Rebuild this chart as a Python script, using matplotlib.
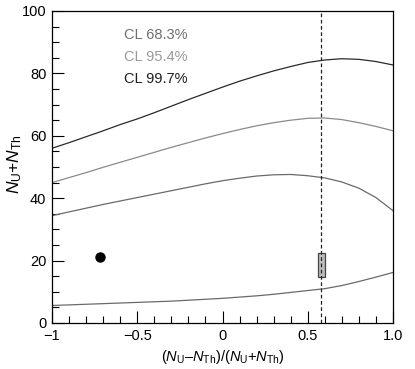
import matplotlib
matplotlib.use("Agg")
import matplotlib.pyplot as plt
from matplotlib.patches import Rectangle
from matplotlib.ticker import MultipleLocator

plt.rcParams['font.family'] = ['Liberation Sans', 'DejaVu Sans']
plt.rcParams['mathtext.fontset'] = 'custom'
plt.rcParams['mathtext.rm'] = 'Liberation Sans'
plt.rcParams['mathtext.it'] = 'Liberation Sans:italic'

# asymmetry values along x
xs = [-1.0, -0.9, -0.8, -0.7, -0.6, -0.5, -0.4, -0.3, -0.2, -0.1, 0.0,
      0.1, 0.2, 0.3, 0.4, 0.5, 0.6, 0.7, 0.8, 0.9, 1.0]

# contour boundaries (upper / lower)
cl997_upper = [56.0, 57.8, 59.7, 61.6, 63.6, 65.4, 67.4, 69.5, 71.6, 73.6, 75.6,
               77.5, 79.2, 80.8, 82.2, 83.5, 84.3, 84.7, 84.5, 83.8, 82.7]
cl954_upper = [45.0, 46.6, 48.2, 49.9, 51.5, 53.1, 54.7, 56.3, 57.8, 59.3, 60.7,
               62.0, 63.2, 64.2, 65.0, 65.6, 65.7, 65.2, 64.2, 63.0, 61.6]
cl683_upper = [34.4, 35.6, 36.8, 38.0, 39.1, 40.2, 41.3, 42.4, 43.5, 44.6, 45.6,
               46.4, 47.1, 47.5, 47.6, 47.2, 46.5, 45.2, 43.2, 40.2, 36.0]
cl683_lower = [5.6, 5.8, 6.0, 6.2, 6.4, 6.6, 6.8, 7.0, 7.3, 7.6, 7.9,
               8.3, 8.7, 9.2, 9.8, 10.4, 11.0, 12.0, 13.3, 14.7, 16.2]

# measured point and expectation
point_x, point_y = -0.72, 21.0
expect_x = 0.58
box_x0, box_x1 = 0.561, 0.602
box_y0, box_y1 = 14.8, 22.5

labels = ['CL 68.3%', 'CL 95.4%', 'CL 99.7%']
label_colors = ['#6e6e6e', '#9a9a9a', '#1e1e1e']

fig = plt.figure(figsize=(4.15, 3.69), dpi=100)
ax = fig.add_axes([0.1253, 0.1247, 0.8217, 0.8455])

ax.plot(xs, cl997_upper, color='#2a2a2a', lw=0.9)
ax.plot(xs, cl954_upper, color='#8a8a8a', lw=0.9)
ax.plot(xs, cl683_upper, color='#6a6a6a', lw=0.9)
ax.plot(xs, cl683_lower, color='#6a6a6a', lw=0.9)

ax.axvline(expect_x, color='#222222', lw=0.9, ls=(0, (3, 2)), zorder=4)
ax.add_patch(Rectangle((box_x0, box_y0), box_x1 - box_x0, box_y1 - box_y0,
                       facecolor='#bdbdbd', edgecolor='#444444', lw=0.9, zorder=3))
ax.plot([point_x], [point_y], 'o', color='black', ms=6.5)

for i, (lab, c) in enumerate(zip(labels, label_colors)):
    ax.text(-0.575, 92.3 - 7.05 * i, lab, color=c, fontsize=10.5, va='center', ha='left')

ax.set_xlim(-1, 1)
ax.set_ylim(0, 100)
ax.xaxis.set_major_locator(MultipleLocator(0.5))
ax.xaxis.set_minor_locator(MultipleLocator(0.1))
ax.yaxis.set_major_locator(MultipleLocator(20))
ax.yaxis.set_minor_locator(MultipleLocator(5))
ax.set_xticks([-1, -0.5, 0, 0.5, 1.0])
ax.set_xticklabels(['\u22121', '\u22120.5', '0', '0.5', '1.0'])
ax.tick_params(which='both', direction='in', top=False, right=False,
               labelsize=10.5, width=0.8, pad=4)
ax.tick_params(which='major', length=8.5)
ax.tick_params(which='minor', length=5)
for s in ax.spines.values():
    s.set_linewidth(0.9)

ax.set_xlabel(r'($N_{\rm U}$–$N_{\rm Th}$)/($N_{\rm U}$+$N_{\rm Th}$)', fontsize=10.5, labelpad=4)
ax.set_ylabel(r'$N_{\rm U}$+$N_{\rm Th}$', fontsize=12.5)
ax.yaxis.set_label_coords(-0.083, 0.51)

fig.savefig('out.png', dpi=100)
